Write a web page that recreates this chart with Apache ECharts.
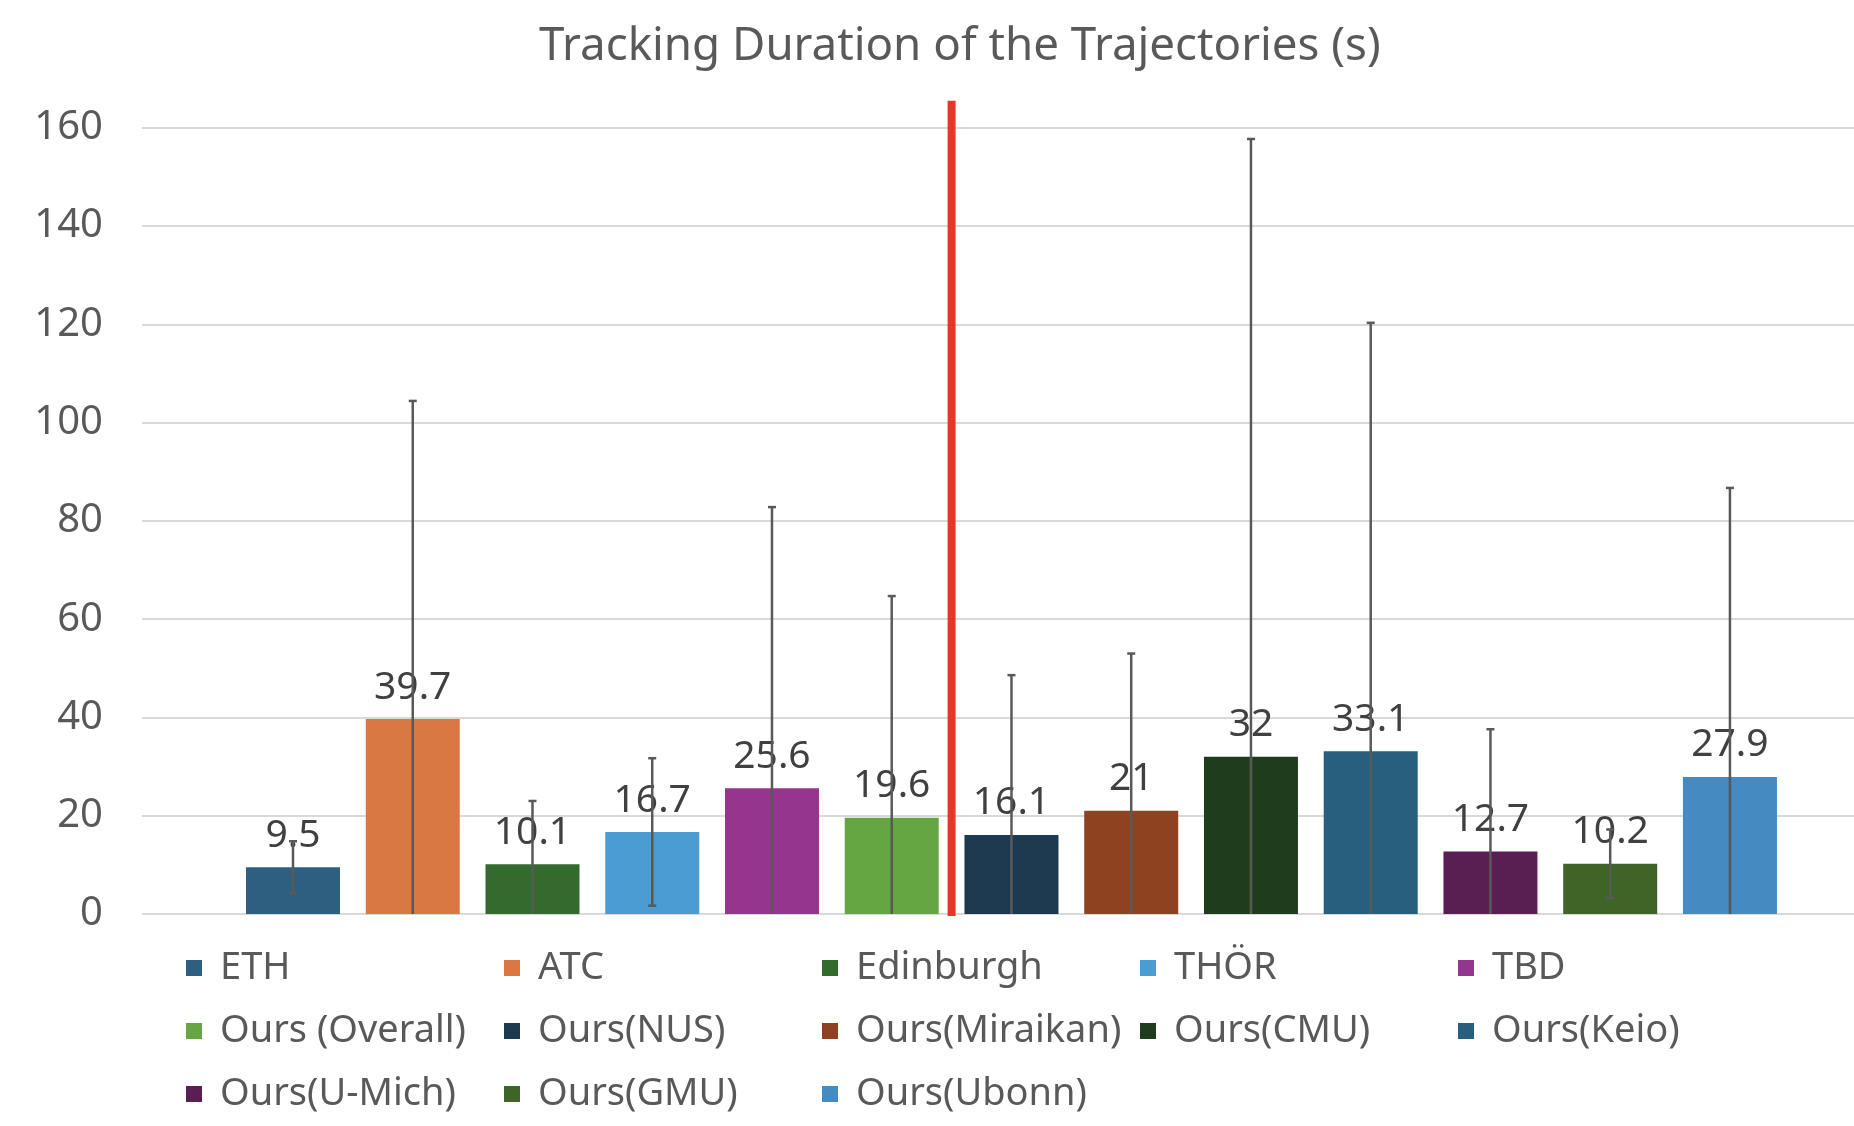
<!DOCTYPE html>
<html>
<head>
<meta charset="utf-8">
<script src="https://cdn.jsdelivr.net/npm/echarts@6/dist/echarts.min.js"></script>
<style>
  html, body { margin: 0; padding: 0; background: #fff; }
  #chart { width: 1854px; height: 1126px; }
</style>
</head>
<body>
<div id="chart"></div>
<script>
// datasets shown on the chart
const categories = ['ETH', 'ATC', 'Edinburgh', 'THÖR', 'TBD', 'Ours (Overall)', 'Ours(NUS)',
    'Ours(Miraikan)', 'Ours(CMU)', 'Ours(Keio)', 'Ours(U-Mich)', 'Ours(GMU)', 'Ours(Ubonn)']
const durations = [9.5, 39.7, 10.1, 16.7, 25.6, 19.6, 16.1, 21, 32, 33.1, 12.7, 10.2, 27.9]
// standard deviation (error bar half length)
const stdDev = [5.3, 64.7, 12.9, 15.0, 57.2, 45.1, 32.5, 32.0, 125.7, 87.2, 24.9, 7.0, 58.8]
const colors = ['#2E5F80', '#D97842', '#336B2E', '#4A9CD2', '#94358E', '#65A642', '#1C394F',
    '#8E4320', '#1F3D1C', '#285E7E', '#5A1F52', '#3F6428', '#458AC0']
const yTicks = [0, 20, 40, 60, 80, 100, 120, 140, 160]
// red separator between published datasets and ours
const separator = [[5.5, 0, 165.5]]

const textColor = '#595959'
const font = 'Noto Sans'

const chart = echarts.init(document.getElementById('chart'))

const barSeries = categories.map((name, i) => ({
    name: name,
    type: 'bar',
    data: [[i, durations[i]]],
    barWidth: 94,
    barGap: '-100%',
    itemStyle: { color: colors[i] },
    label: {
        show: true,
        position: 'top',
        distance: 12,
        color: '#404040',
        fontSize: 39,
        fontFamily: font
    }
}))

const errorSeries = {
    type: 'custom',
    silent: true,
    z: 5,
    data: durations.map((d, i) => [i, d - stdDev[i], d + stdDev[i]]),
    renderItem: function (params, api) {
        const x = api.value(0)
        const lo = api.value(1)
        const hi = api.value(2)
        const top = api.coord([x, hi])
        const bottom = api.coord([x, Math.max(lo, yTicks[0])])
        const style = { stroke: '#595959', lineWidth: 2.5 }
        const children = [
            { type: 'line', shape: { x1: top[0], y1: top[1], x2: bottom[0], y2: bottom[1] }, style: style },
            { type: 'line', shape: { x1: top[0] - 4, y1: top[1], x2: top[0] + 4, y2: top[1] }, style: style }
        ]
        if (lo >= yTicks[0]) {
            children.push({ type: 'line', shape: { x1: bottom[0] - 4, y1: bottom[1], x2: bottom[0] + 4, y2: bottom[1] }, style: style })
        }
        return { type: 'group', children: children }
    }
}

const separatorSeries = {
    type: 'custom',
    silent: true,
    clip: false,
    z: 6,
    data: separator,
    renderItem: function (params, api) {
        const a = api.coord([api.value(0), api.value(1)])
        const b = api.coord([api.value(0), api.value(2)])
        return {
            type: 'line',
            shape: { x1: a[0], y1: a[1] + 2, x2: b[0], y2: b[1] },
            style: { stroke: '#E8352A', lineWidth: 8 }
        }
    }
}

chart.setOption({
    animation: false,
    textStyle: { fontFamily: font },
    title: {
        text: 'Tracking Duration of the Trajectories (s)',
        left: 539,
        top: 24,
        padding: 0,
        textStyle: { color: textColor, fontSize: 45.7, fontWeight: 'normal', fontFamily: font }
    },
    legend: {
        data: categories,
        left: 186,
        top: 944,
        width: 1600,
        padding: 0,
        icon: 'rect',
        itemWidth: 16,
        itemHeight: 16,
        itemGap: 15,
        textStyle: {
            color: textColor,
            fontSize: 38,
            fontFamily: font,
            width: 269,
            lineHeight: 48,
            padding: [0, 0, 0, 13]
        }
    },
    grid: {
        left: 142,
        right: 0,
        top: 127.7,
        bottom: 212,
        outerBoundsMode: 'none'
    },
    xAxis: {
        type: 'value',
        min: -1.261,
        max: 13.036,
        show: false
    },
    yAxis: {
        type: 'value',
        min: yTicks[0],
        max: yTicks[yTicks.length - 1],
        interval: 20,
        axisLine: { show: false },
        axisTick: { show: false },
        axisLabel: { color: textColor, fontSize: 40, margin: 39, fontFamily: font },
        splitLine: { lineStyle: { color: '#D9D9D9', width: 2 } }
    },
    series: [...barSeries, errorSeries, separatorSeries]
})
</script>
</body>
</html>
